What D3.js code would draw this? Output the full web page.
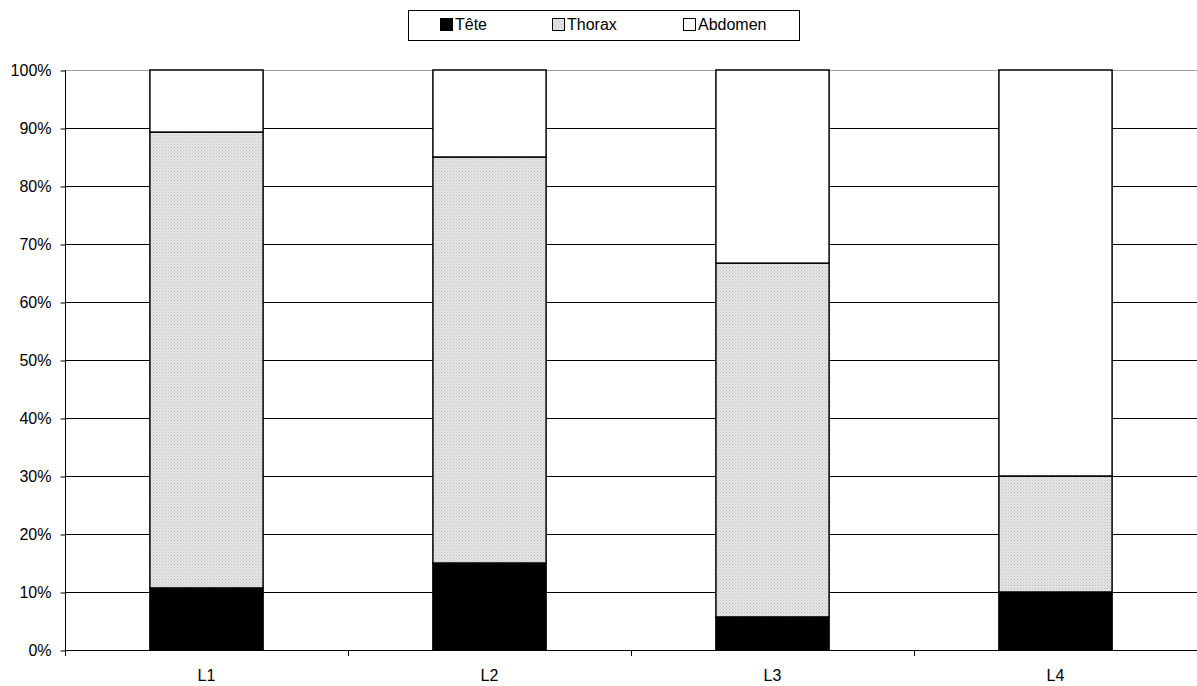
<!DOCTYPE html>
<html><head><meta charset="utf-8">
<script src="https://cdn.jsdelivr.net/npm/d3@7"></script>
<style>body{margin:0;background:#fff;}svg{display:block;font-family:"Liberation Sans",Arial,sans-serif;}</style>
</head><body>
<svg id="c" width="1197" height="686"></svg>
<script>
const categories = ["L1","L2","L3","L4"];
const seriesNames = ["Tête","Thorax","Abdomen"];
const tete = [10.7, 15, 5.7, 10];
const thorax = [78.6, 70, 61, 20];
const abdomen = [10.7, 15, 33.3, 70];
const yTicks = [0,10,20,30,40,50,60,70,80,90,100];

const svg = d3.select("#c");
const defs = svg.append("defs");
const pat = defs.append("pattern").attr("id","dots").attr("patternUnits","userSpaceOnUse").attr("width",3).attr("height",3);
pat.append("rect").attr("width",3).attr("height",3).attr("fill","#e4e4e4");
pat.append("rect").attr("width",1).attr("height",1).attr("fill","#bdbdbd");
pat.append("rect").attr("x",1.5).attr("y",1.5).attr("width",1).attr("height",1).attr("fill","#cfcfcf");

const fills = ["#000000","url(#dots)","#ffffff"];
const L = 65, R = 1197, T = 70, B = 650;
const FS = 16;
const x = d3.scaleBand().domain(categories).range([L,R]).paddingInner(0.6).paddingOuter(0.3);
const xBound = d3.scaleLinear().domain([0,categories.length]).range([L,R]);
const y = d3.scaleLinear().domain([0,100]).range([B,T]);

// gridlines
svg.append("g").selectAll("line").data(yTicks.filter(d=>d>0)).join("line")
  .attr("x1",L).attr("x2",R).attr("y1",d=>y(d)+0.5).attr("y2",d=>y(d)+0.5)
  .attr("stroke",d=>d===100?"#a0a0a0":"#000").attr("stroke-width",1).attr("shape-rendering","crispEdges");

// y axis
const yAxis = d3.axisLeft(y).tickValues(yTicks).tickFormat(d=>d+"%").tickSize(5).tickPadding(9);
const gy = svg.append("g").attr("transform",`translate(${L+0.5},0.5)`).call(yAxis);
gy.select(".domain").attr("stroke","#000").attr("d",`M0,${T}V${B}`);
gy.selectAll(".tick line").attr("stroke","#000");
gy.selectAll("text").attr("font-size",FS).attr("fill","#000").attr("font-family","Liberation Sans, Arial, sans-serif");

// x axis
const gx = svg.append("g").attr("transform",`translate(0,${B+0.5})`);
gx.append("line").attr("x1",L).attr("x2",R).attr("stroke","#000").attr("shape-rendering","crispEdges");
gx.selectAll("line.t").data(d3.range(categories.length+1)).join("line").attr("class","t")
  .attr("x1",d=>Math.round(xBound(d))+0.5).attr("x2",d=>Math.round(xBound(d))+0.5).attr("y1",0).attr("y2",5)
  .attr("stroke","#000").attr("shape-rendering","crispEdges");
gx.selectAll("text").data(categories).join("text")
  .attr("x",d=>x(d)+x.bandwidth()/2).attr("y",30).attr("text-anchor","middle")
  .attr("font-size",FS).attr("fill","#000").text(d=>d);

// stacked bars
const rows = categories.map((c,i)=>({cat:c, "Tête":tete[i], "Thorax":thorax[i], "Abdomen":abdomen[i]}));
const stack = d3.stack().keys(seriesNames)(rows);
svg.append("g").selectAll("g").data(stack).join("g")
  .attr("fill",(d,i)=>fills[i])
  .selectAll("rect").data(d=>d).join("rect")
  .attr("x",d=>x(d.data.cat)).attr("width",x.bandwidth())
  .attr("y",d=>y(d[1])).attr("height",d=>y(d[0])-y(d[1]))
  .attr("stroke","#000").attr("stroke-width",1.5);

// legend
const lg = svg.append("g");
lg.append("rect").attr("x",408.5).attr("y",10.5).attr("width",391).attr("height",30).attr("fill","#fff").attr("stroke","#000").attr("stroke-width",1);
const legX = [440, 552, 683];
seriesNames.forEach((n,i)=>{
  lg.append("rect").attr("x",legX[i]+0.5).attr("y",18.5).attr("width",12).attr("height",12)
    .attr("fill",fills[i]).attr("stroke","#000").attr("stroke-width",1);
  lg.append("text").attr("x",legX[i]+15).attr("y",30).attr("font-size",FS).attr("fill","#000").text(n);
});
</script>
</body></html>
